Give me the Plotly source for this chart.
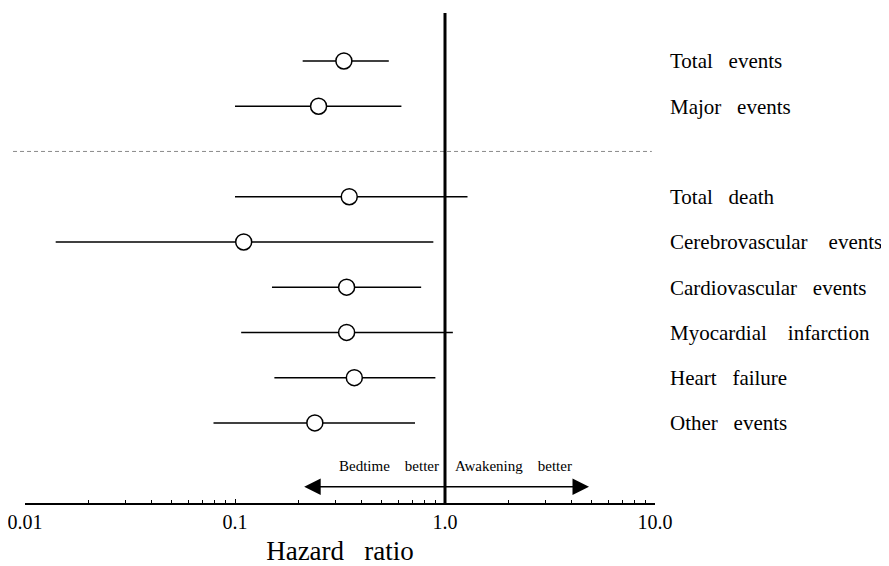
import math
import plotly.graph_objects as go

# rows, top to bottom (nbsp keeps the wide word gaps of the original)
labels = [
    "Total\u00a0\u00a0\u00a0events",
    "Major\u00a0\u00a0\u00a0events",
    "Total\u00a0\u00a0\u00a0death",
    "Cerebrovascular\u00a0\u00a0\u00a0\u00a0events",
    "Cardiovascular\u00a0\u00a0\u00a0events",
    "Myocardial\u00a0\u00a0\u00a0\u00a0infarction",
    "Heart\u00a0\u00a0\u00a0failure",
    "Other\u00a0\u00a0\u00a0events",
]
hazard_ratio = [0.33, 0.25, 0.35, 0.11, 0.34, 0.34, 0.37, 0.24]
ci_low = [0.21, 0.10, 0.10, 0.014, 0.15, 0.107, 0.154, 0.079]
ci_high = [0.54, 0.62, 1.28, 0.88, 0.77, 1.09, 0.90, 0.72]

tick_vals = [0.01, 0.1, 1.0, 10.0]
tick_text = ["0.01", "0.1", "1.0", "10.0"]

SERIF = "Liberation Serif"
SEP = "\u00a0"  # blank row between the two groups

rows = labels[:2] + [SEP] + labels[2:]

fig = go.Figure()

fig.add_trace(go.Scatter(
    x=hazard_ratio,
    y=labels,
    mode="markers",
    marker=dict(symbol="circle", size=16, color="white",
                line=dict(color="black", width=1.5)),
    error_x=dict(
        type="data",
        symmetric=False,
        array=[h - m for h, m in zip(ci_high, hazard_ratio)],
        arrayminus=[m - l for m, l in zip(hazard_ratio, ci_low)],
        color="black",
        thickness=1.5,
        width=0,
    ),
    showlegend=False,
    hoverinfo="skip",
))

# dashed separator between the groups
fig.add_shape(type="line", xref="paper", yref="y",
              x0=-0.019, x1=0.995, y0=2, y1=2,
              line=dict(color="#8a8a8a", width=1, dash="4px,3px"))

# reference line at HR = 1
fig.add_shape(type="line", xref="x", yref="paper",
              x0=1, x1=1, y0=0, y1=1,
              line=dict(color="black", width=3))

# double-headed arrow under the rows
fig.add_annotation(x=math.log10(4.85), y=9.41, ax=math.log10(0.21), ay=9.41,
                   xref="x", yref="y", axref="x", ayref="y",
                   text="", showarrow=True, arrowside="end+start",
                   arrowhead=2, arrowsize=2.2, arrowwidth=1.5,
                   arrowcolor="black")

fig.add_annotation(x=0, y=8.95, xref="x", yref="y",
                   text="Bedtime\u00a0\u00a0\u00a0\u00a0better",
                   showarrow=False, xanchor="right", xshift=-4,
                   font=dict(family=SERIF, size=15, color="black"))
fig.add_annotation(x=0, y=8.95, xref="x", yref="y",
                   text="Awakening\u00a0\u00a0\u00a0\u00a0better",
                   showarrow=False, xanchor="left", xshift=8,
                   font=dict(family=SERIF, size=15, color="black"))

# page has an 8px body margin, so the figure is sized to fill the rest
fig.update_layout(
    width=881, height=558,
    margin=dict(l=17, r=234, t=5, b=63),
    plot_bgcolor="white",
    paper_bgcolor="white",
    font=dict(family=SERIF, color="black"),
)

fig.update_xaxes(
    type="log",
    range=[-2, 1],
    automargin=False,
    tickvals=tick_vals,
    ticktext=tick_text,
    ticklabeloverflow="allow",
    ticks="inside", ticklen=4, tickwidth=1, tickcolor="black",
    minor=dict(dtick="D1", ticks="inside", ticklen=3, tickcolor="black"),
    showline=True, linecolor="black", linewidth=1.5,
    showgrid=False, zeroline=False,
    tickfont=dict(family=SERIF, size=20),
    title=dict(text="Hazard\u00a0\u00a0\u00a0ratio",
               font=dict(family=SERIF, size=27), standoff=9),
)

fig.update_yaxes(
    type="category",
    categoryorder="array",
    categoryarray=rows,
    range=[9.77, -1.06],
    side="right",
    automargin=False,
    showline=False, showgrid=False, zeroline=False,
    ticks="",
    ticklabelstandoff=14,
    tickfont=dict(family=SERIF, size=21),
)

fig.write_html("out.html")
